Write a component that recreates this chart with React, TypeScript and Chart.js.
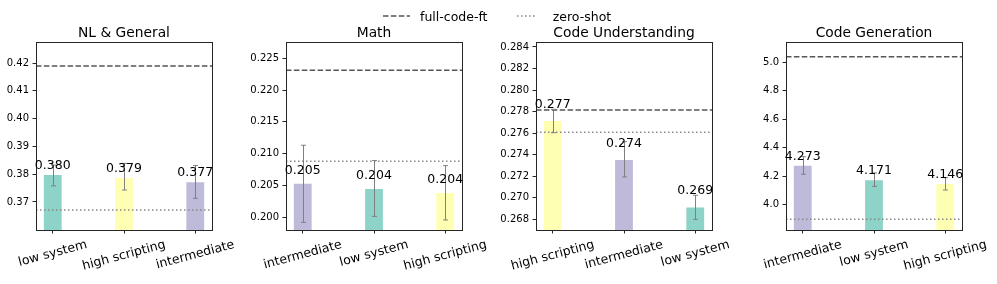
import React, { useEffect, useRef } from "react";
import { Chart, registerables } from "chart.js";

Chart.register(...registerables);

const FONT = "'DejaVu Sans', sans-serif";
const W = 997;
const H = 284;

const COLORS: Record<string, string> = {
  "low system": "#8dd3c7",
  "high scripting": "#ffffb3",
  intermediate: "#bebada",
};

// ---- NL & General ----
const nlTitle = "NL & General";
const nlCategories = ["low system", "high scripting", "intermediate"];
const nlValues = [0.3797, 0.3786, 0.3771];
const nlErrLow = [0.3758, 0.3743, 0.3713];
const nlErrHigh = [0.3833, 0.3839, 0.3831];
const nlFull = 0.419;
const nlZero = 0.3671;
const nlTicks = [0.37, 0.38, 0.39, 0.4, 0.41, 0.42];

// ---- Math ----
const mathTitle = "Math";
const mathCategories = ["intermediate", "low system", "high scripting"];
const mathValues = [0.20526, 0.20442, 0.20379];
const mathErrLow = [0.19916, 0.2001, 0.19953];
const mathErrHigh = [0.21132, 0.2089, 0.2081];
const mathFull = 0.22316;
const mathZero = 0.2088;
const mathTicks = [0.2, 0.205, 0.21, 0.215, 0.22, 0.225];

// ---- Code Understanding ----
const cuTitle = "Code Understanding";
const cuCategories = ["high scripting", "intermediate", "low system"];
const cuValues = [0.27713, 0.27351, 0.26911];
const cuErrLow = [0.27604, 0.27193, 0.268];
const cuErrHigh = [0.27821, 0.27521, 0.27023];
const cuFull = 0.27814;
const cuZero = 0.27608;
const cuTicks = [0.268, 0.27, 0.272, 0.274, 0.276, 0.278, 0.28, 0.282, 0.284];

// ---- Code Generation ----
const cgTitle = "Code Generation";
const cgCategories = ["intermediate", "low system", "high scripting"];
const cgValues = [4.273, 4.171, 4.146];
const cgErrLow = [4.214, 4.129, 4.103];
const cgErrHigh = [4.337, 4.223, 4.19];
const cgFull = 5.039;
const cgZero = 3.897;
const cgTicks = [4.0, 4.2, 4.4, 4.6, 4.8, 5.0];

const legendLabels = ["full-code-ft", "zero-shot"];

const XMIN = -0.235;
const XMAX = 2.235;

type Panel = {
  title: string;
  categories: string[];
  values: number[];
  errLow: number[];
  errHigh: number[];
  full: number;
  zero: number;
  ticks: number[];
  decimals: number;
  yMin: number;
  yMax: number;
  left: number;
  right: number;
  labelGap: number;
};

const PLOT_TOP = 42;
const PLOT_BOTTOM = 230;
const Y_AXIS_W = 50;
const X_AXIS_H = 4;

const panels: Panel[] = [
  {
    title: nlTitle, categories: nlCategories, values: nlValues, errLow: nlErrLow, errHigh: nlErrHigh,
    full: nlFull, zero: nlZero, ticks: nlTicks, decimals: 2, yMin: 0.3599, yMax: 0.4276,
    left: 36, right: 212, labelGap: 5.9,
  },
  {
    title: mathTitle, categories: mathCategories, values: mathValues, errLow: mathErrLow, errHigh: mathErrHigh,
    full: mathFull, zero: mathZero, ticks: mathTicks, decimals: 3, yMin: 0.19795, yMax: 0.2276,
    left: 286, right: 462, labelGap: 10,
  },
  {
    title: cuTitle, categories: cuCategories, values: cuValues, errLow: cuErrLow, errHigh: cuErrHigh,
    full: cuFull, zero: cuZero, ticks: cuTicks, decimals: 3, yMin: 0.26701, yMax: 0.28446,
    left: 536, right: 712, labelGap: 13.4,
  },
  {
    title: cgTitle, categories: cgCategories, values: cgValues, errLow: cgErrLow, errHigh: cgErrHigh,
    full: cgFull, zero: cgZero, ticks: cgTicks, decimals: 1, yMin: 3.822, yMax: 5.143,
    left: 786, right: 962, labelGap: 6.3,
  },
];

function makeExtras(p: Panel) {
  return {
    id: "extras",
    afterDatasetsDraw(chart: any) {
      const { ctx, chartArea: a, scales } = chart;
      const x = scales.x;
      const y = scales.y;
      ctx.save();
      // error bars
      ctx.strokeStyle = "#808080";
      ctx.lineWidth = 1;
      p.values.forEach((_v, i) => {
        const px = Math.round(x.getPixelForValue(i)) + 0.5;
        const yl = y.getPixelForValue(p.errLow[i]);
        const yh = y.getPixelForValue(p.errHigh[i]);
        ctx.beginPath();
        ctx.moveTo(px, yl);
        ctx.lineTo(px, yh);
        ctx.moveTo(px - 2.5, yl);
        ctx.lineTo(px + 2.5, yl);
        ctx.moveTo(px - 2.5, yh);
        ctx.lineTo(px + 2.5, yh);
        ctx.stroke();
      });
      // spines
      ctx.strokeStyle = "#262626";
      ctx.lineWidth = 1;
      ctx.strokeRect(
        Math.round(a.left) + 0.5,
        Math.round(a.top) + 0.5,
        Math.round(a.right - a.left),
        Math.round(a.bottom - a.top)
      );
      // value labels
      ctx.fillStyle = "#000";
      ctx.font = `12.5px ${FONT}`;
      ctx.textAlign = "center";
      ctx.textBaseline = "alphabetic";
      p.values.forEach((v, i) => {
        ctx.fillText(v.toFixed(3), x.getPixelForValue(i), y.getPixelForValue(v) - p.labelGap);
      });
      // title
      ctx.font = `13.8px ${FONT}`;
      ctx.fillText(p.title, (a.left + a.right) / 2, 36.5);
      // rotated category labels
      ctx.font = `12.5px ${FONT}`;
      ctx.textBaseline = "middle";
      const rot = (15 * Math.PI) / 180;
      p.categories.forEach((c, i) => {
        const w = ctx.measureText(c).width;
        const h = 14.5;
        const bh = w * Math.sin(rot) + h * Math.cos(rot);
        const cx = x.getPixelForValue(i);
        const cy = a.bottom + 7.5 + bh / 2;
        ctx.save();
        ctx.translate(cx, cy);
        ctx.rotate(-rot);
        ctx.fillText(c, 0, 0);
        ctx.restore();
      });
      ctx.restore();
    },
  };
}

function buildChart(canvas: HTMLCanvasElement, p: Panel) {
  const idx = p.categories.map((_c, i) => i);
  return new Chart(canvas, {
    type: "bar",
    data: {
      datasets: [
        {
          type: "line",
          data: [{ x: XMIN, y: p.full }, { x: XMAX, y: p.full }],
          borderColor: "#555555",
          borderWidth: 1.5,
          borderDash: [5.5, 2.4],
          pointRadius: 0,
          order: 0,
        } as any,
        {
          type: "line",
          data: [{ x: XMIN, y: p.zero }, { x: XMAX, y: p.zero }],
          borderColor: "#888888",
          borderWidth: 1.5,
          borderDash: [1.5, 2.5],
          pointRadius: 0,
          order: 0,
        } as any,
        {
          type: "bar",
          data: p.values.map((v, i) => ({ x: i, y: v })),
          backgroundColor: p.categories.map((c) => COLORS[c]),
          borderWidth: 0,
          barPercentage: 0.25,
          categoryPercentage: 1,
          order: 1,
        } as any,
      ],
    },
    options: {
      responsive: false,
      animation: false,
      devicePixelRatio: 1,
      layout: {
        padding: {
          left: p.left - Y_AXIS_W,
          right: W - p.right,
          top: PLOT_TOP,
          bottom: H - PLOT_BOTTOM - X_AXIS_H,
        },
      },
      plugins: {
        legend: { display: false },
        title: { display: false },
        tooltip: { enabled: false },
      },
      scales: {
        x: {
          type: "linear",
          min: XMIN,
          max: XMAX,
          offset: false,
          afterBuildTicks: (s: any) => {
            s.ticks = idx.map((v) => ({ value: v }));
          },
          afterFit: (s: any) => {
            s.height = X_AXIS_H;
          },
          ticks: { display: false },
          grid: {
            display: true,
            drawOnChartArea: false,
            drawTicks: true,
            tickLength: 3.5,
            color: "#262626",
            offset: false,
          },
          border: { display: false },
        },
        y: {
          type: "linear",
          min: p.yMin,
          max: p.yMax,
          afterBuildTicks: (s: any) => {
            s.ticks = p.ticks.map((v) => ({ value: v }));
          },
          afterFit: (s: any) => {
            s.width = Y_AXIS_W;
          },
          ticks: {
            autoSkip: false,
            padding: 3.5,
            color: "#000",
            font: { family: FONT, size: 10 },
            callback: (v: any) => Number(v).toFixed(p.decimals),
          },
          grid: {
            display: true,
            drawOnChartArea: false,
            drawTicks: true,
            tickLength: 3.5,
            color: "#262626",
          },
          border: { display: false },
        },
      } as any,
    },
    plugins: [makeExtras(p)],
  } as any);
}

export default function App() {
  const refs = [
    useRef<HTMLCanvasElement>(null),
    useRef<HTMLCanvasElement>(null),
    useRef<HTMLCanvasElement>(null),
    useRef<HTMLCanvasElement>(null),
  ];

  useEffect(() => {
    const charts = panels.map((p, i) => buildChart(refs[i].current as HTMLCanvasElement, p));
    return () => charts.forEach((c) => c.destroy());
  }, []);

  return (
    <div style={{ position: "absolute", left: 0, top: 0, width: W, height: H, background: "#fff" }}>
      {panels.map((_p, i) => (
        <canvas
          key={i}
          ref={refs[i]}
          width={W}
          height={H}
          style={{ position: "absolute", left: 0, top: 0, width: W, height: H }}
        />
      ))}
      <svg
        width={W}
        height={H}
        style={{ position: "absolute", left: 0, top: 0, pointerEvents: "none" }}
      >
        <line x1={383} x2={410} y1={16} y2={16} stroke="#555555" strokeWidth={1.5} strokeDasharray="5.5 2.4" />
        <text x={420} y={20.7} fontFamily={FONT} fontSize={12.5} fill="#000">
          {legendLabels[0]}
        </text>
        <line x1={517} x2={537} y1={16} y2={16} stroke="#888888" strokeWidth={1.5} strokeDasharray="1.5 2.5" />
        <text x={552.7} y={20.7} fontFamily={FONT} fontSize={12.5} fill="#000">
          {legendLabels[1]}
        </text>
      </svg>
    </div>
  );
}
